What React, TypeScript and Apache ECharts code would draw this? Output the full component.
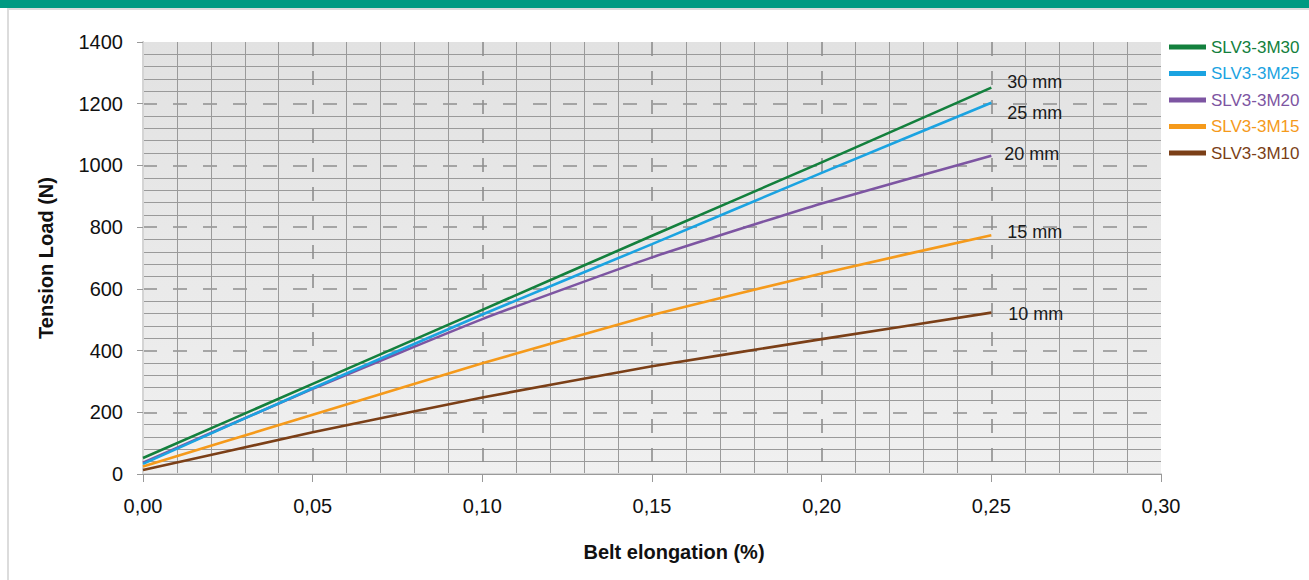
import React, { useEffect, useRef } from "react";
import * as echarts from "echarts";

const xValues = [0, 0.05, 0.1, 0.15, 0.2, 0.25];
const seriesNames = ["SLV3-3M30", "SLV3-3M25", "SLV3-3M20", "SLV3-3M15", "SLV3-3M10"];
const endLabels = ["30 mm", "25 mm", "20 mm", "15 mm", "10 mm"];
const s30 = [52, 292, 532, 772, 1010, 1252];
const s25 = [33, 278, 517, 745, 976, 1203];
const s20 = [37, 276, 502, 702, 877, 1031];
const s15 = [24, 192, 359, 515, 650, 774];
const s10 = [13, 135, 248, 349, 437, 523];
const seriesValues = [s30, s25, s20, s15, s10];
const colors = ["#13803d", "#1ba3e1", "#7d55a2", "#f59a1b", "#7b3f17"];
const labelOffsets = [
  [16, -6],
  [16, 10],
  [13, -2],
  [16, -3],
  [17, 1],
];

const FONT = "'Liberation Sans', Arial, Helvetica, sans-serif";

export default function App() {
  const ref = useRef<HTMLDivElement>(null);

  useEffect(() => {
    if (!ref.current) return;
    const chart = echarts.init(ref.current, undefined, { renderer: "svg" });
    const series = seriesValues.map((vals, i) => ({
      name: seriesNames[i],
      type: "line",
      data: xValues.map((x, j) => [x, vals[j]]),
      smooth: 0.15,
      showSymbol: false,
      symbol: "none",
      lineStyle: { color: colors[i], width: 2.6 },
      itemStyle: { color: colors[i] },
      z: 10 - i,
      endLabel: {
        show: true,
        formatter: endLabels[i],
        offset: labelOffsets[i],
        distance: 0,
        color: "#1a1a1a",
        fontSize: 18,
        fontFamily: FONT,
      },
    }));

    chart.setOption({
      animation: false,
      textStyle: { fontFamily: FONT },
      grid: {
        left: 143,
        right: 148,
        top: 42,
        bottom: 106,
        show: true,
        borderWidth: 0,
        backgroundColor: new echarts.graphic.LinearGradient(0, 0, 0, 1, [
          { offset: 0, color: "#e2e2e2" },
          { offset: 1, color: "#f0f0f0" },
        ]),
      },
      legend: {
        orient: "vertical",
        left: 1169,
        top: 38,
        padding: 0,
        itemWidth: 37,
        itemHeight: 5,
        itemGap: 8.5,
        icon: "rect",
        textStyle: { fontSize: 17, lineHeight: 18, fontFamily: FONT },
        data: seriesNames.map((n, i) => ({ name: n, textStyle: { color: colors[i] } })),
      },
      xAxis: [
        {
          type: "value",
          min: 0,
          max: 0.3,
          interval: 0.05,
          name: "Belt elongation (%)",
          nameLocation: "middle",
          nameGap: 68,
          nameTextStyle: {
            fontSize: 20,
            fontWeight: "bold",
            color: "#111",
            padding: [0, 0, 0, 44],
            fontFamily: FONT,
          },
          axisLine: { show: true, lineStyle: { color: "#d4d4d4", width: 2 } },
          axisTick: { show: true, length: 8, lineStyle: { color: "#999" } },
          axisLabel: {
            margin: 22,
            fontSize: 20,
            color: "#111",
            fontFamily: FONT,
            formatter: (v: number) => v.toFixed(2).replace(".", ","),
          },
          splitLine: {
            show: true,
            showMinLine: false,
            showMaxLine: false,
            lineStyle: { color: "#8e8e8e", width: 1.6, type: [14, 15] },
          },
          minorTick: { show: false, splitNumber: 5 },
          minorSplitLine: { show: true, lineStyle: { color: "#9a9a9a", width: 1 } },
        },
        {
          type: "value",
          position: "top",
          min: 0,
          max: 0.3,
          interval: 0.05,
          axisLine: { show: true, lineStyle: { color: "#9a9a9a", width: 1 } },
          axisTick: { show: false },
          axisLabel: { show: false },
          splitLine: { show: false },
        },
      ],
      yAxis: [
        {
          type: "value",
          min: 0,
          max: 1400,
          interval: 200,
          name: "Tension Load (N)",
          nameLocation: "middle",
          nameGap: 87,
          nameTextStyle: { fontSize: 20, fontWeight: "bold", color: "#111", fontFamily: FONT },
          axisLine: { show: true, lineStyle: { color: "#999", width: 1 } },
          axisTick: { show: true, length: 6, lineStyle: { color: "#999" } },
          axisLabel: {
            margin: 20,
            fontSize: 20,
            color: "#111",
            fontFamily: FONT,
            formatter: (v: number) => String(v),
          },
          splitLine: {
            show: true,
            showMinLine: false,
            showMaxLine: false,
            lineStyle: { color: "#8e8e8e", width: 1.6, type: [14, 16] },
          },
          minorTick: { show: false, splitNumber: 5 },
          minorSplitLine: { show: true, lineStyle: { color: "#9a9a9a", width: 1 } },
        },
        {
          type: "value",
          position: "right",
          min: 0,
          max: 1400,
          interval: 200,
          axisLine: { show: true, lineStyle: { color: "#d4d4d4", width: 2 } },
          axisTick: { show: false },
          axisLabel: { show: false },
          splitLine: { show: false },
        },
      ],
      graphic: [
        { type: "rect", left: 0, top: 0, shape: { width: 1309, height: 8 }, style: { fill: "#009a82" } },
        { type: "rect", left: 7, top: 8, shape: { width: 1302, height: 2 }, style: { fill: "#dcdcdc" } },
        { type: "rect", left: 7, top: 8, shape: { width: 2, height: 572 }, style: { fill: "#dcdcdc" } },
      ],
      series,
    });
    return () => chart.dispose();
  }, []);

  return (
    <div
      ref={ref}
      style={{ position: "absolute", left: 0, top: 0, width: 1309, height: 580, background: "#fff" }}
    />
  );
}
